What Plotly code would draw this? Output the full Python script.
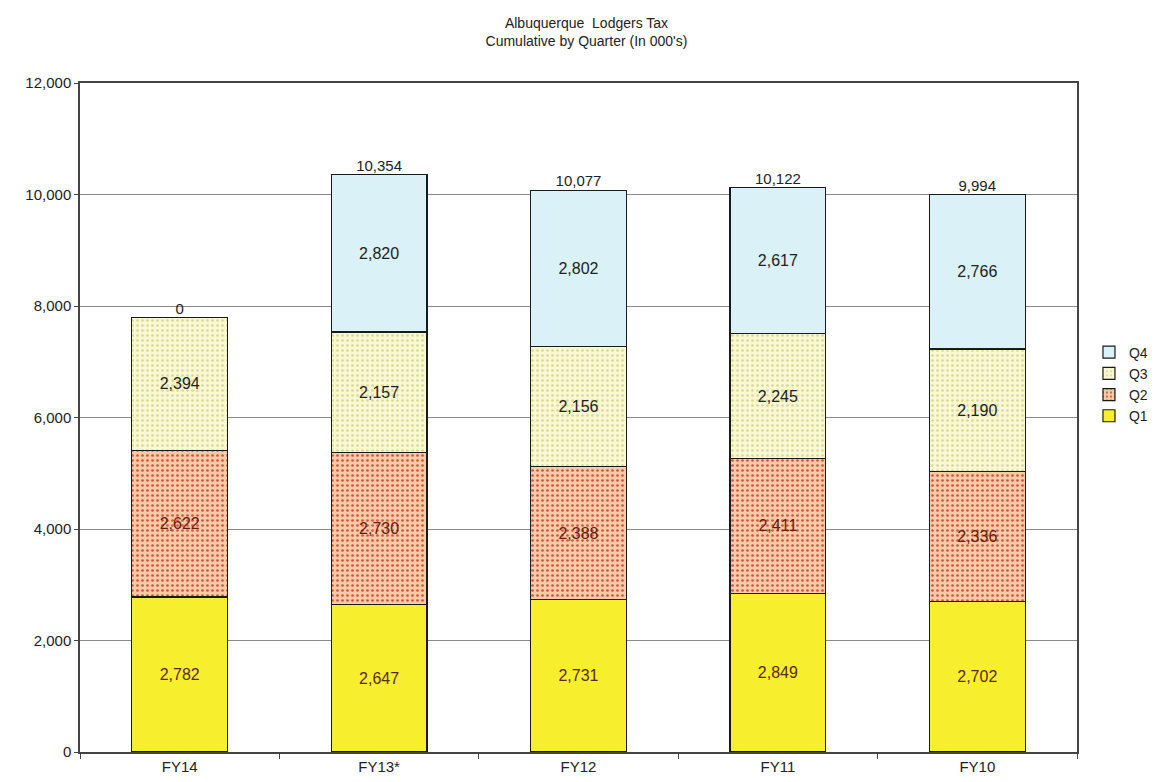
import plotly.graph_objects as go

# Data (in 000's)
years = ["FY14", "FY13*", "FY12", "FY11", "FY10"]
q1 = [2782, 2647, 2731, 2849, 2702]
q2 = [2622, 2730, 2388, 2411, 2336]
q3 = [2394, 2157, 2156, 2245, 2190]
q4 = [0, 2820, 2802, 2617, 2766]
total_labels = ["0", "10,354", "10,077", "10,122", "9,994"]

FONT = "Liberation Sans, Arial, sans-serif"

fig = go.Figure()

series = [
    ("Q1", q1, "#f7ef2e", None, "#f7ef2e", "#5a2a10"),
    ("Q2", q2, "#f5cba8", ".", "#d4503a", "#6a1a10"),
    ("Q3", q3, "#f9f8d4", ".", "#d8d890", "#222222"),
    ("Q4", q4, "#d9f1f7", None, "#d9f1f7", "#222222"),
]

for name, vals, color, shape, fg, txtcol in series:
    marker = dict(color=color, line=dict(color="#1a1a1a", width=1.2))
    if shape:
        marker["pattern"] = dict(shape=shape, fgcolor=fg, bgcolor=color,
                                 size=5, solidity=0.22, fillmode="replace")
    fig.add_trace(go.Bar(
        x=years, y=vals, name=name, marker=marker,
        text=[f"{v:,}" if v else "" for v in vals],
        textposition="inside", insidetextanchor="middle",
        textfont=dict(family=FONT, size=16, color=txtcol),
        width=0.48,
    ))

# totals label above each stack
tops = [a + b + c + d for a, b, c, d in zip(q1, q2, q3, q4)]
fig.add_trace(go.Scatter(
    x=years, y=tops, mode="text", text=total_labels,
    textposition="top center", showlegend=False, hoverinfo="skip",
    textfont=dict(family=FONT, size=15, color="#222222"),
))

fig.update_layout(
    barmode="stack",
    width=1157, height=782,
    margin=dict(l=72, r=82, t=75, b=38),
    paper_bgcolor="white", plot_bgcolor="white",
    font=dict(family=FONT, size=14, color="#222222"),
    title=dict(text="Albuquerque  Lodgers Tax<br>Cumulative by Quarter (In 000's)",
               x=0.5, xanchor="center", y=0.975, yanchor="top",
               font=dict(family=FONT, size=14)),
    legend=dict(x=1.012, y=0.55, xanchor="left", yanchor="middle",
                traceorder="reversed", font=dict(family=FONT, size=14),
                itemwidth=30, bgcolor="rgba(0,0,0,0)"),
    showlegend=True,
)

fig.update_yaxes(range=[0, 12000], dtick=2000, tickformat=",",
                 showgrid=True, gridcolor="#8a8a8a", gridwidth=1,
                 showline=True, linecolor="#444444", linewidth=1.5, mirror=True,
                 ticks="outside", ticklen=4, tickcolor="#444444",
                 tickfont=dict(family=FONT, size=15), zeroline=False)
fig.update_xaxes(showline=True, linecolor="#444444", linewidth=1.5, mirror=True,
                 ticks="outside", ticklen=5, tickcolor="#444444",
                 tickson="boundaries",
                 tickfont=dict(family=FONT, size=15))

fig.write_html("out.html")
